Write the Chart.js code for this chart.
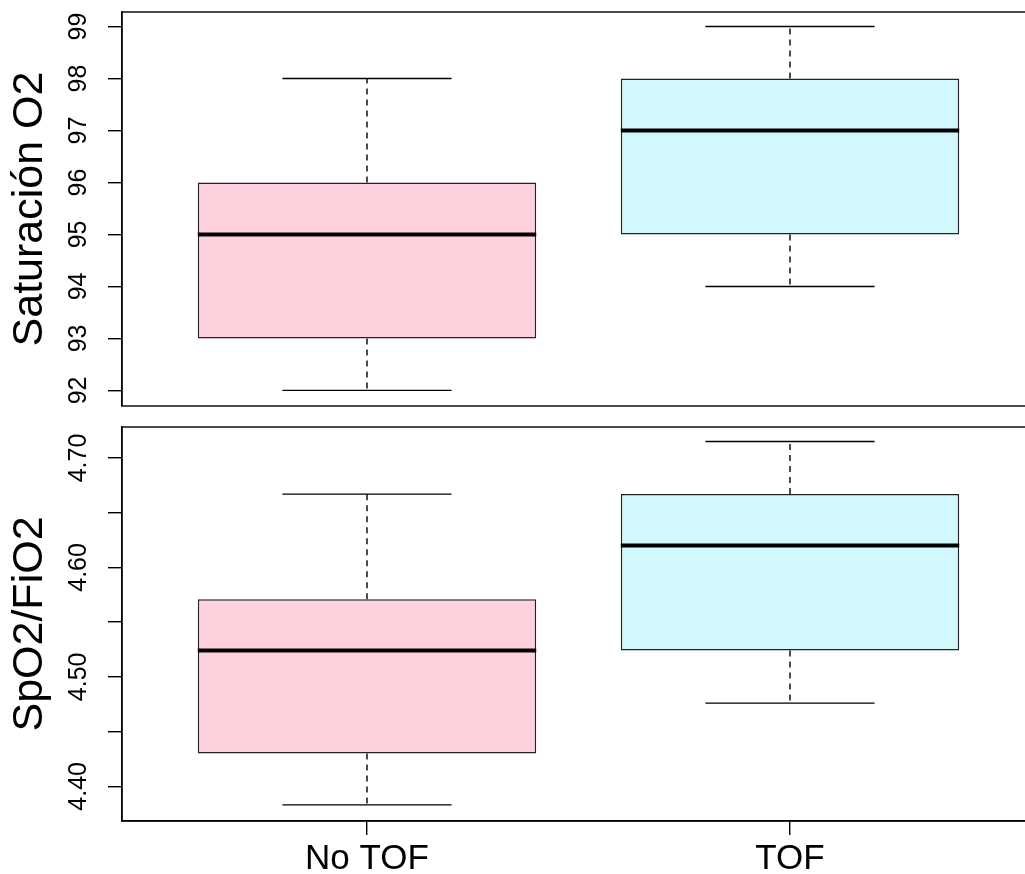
<!DOCTYPE html>
<html>
<head>
<meta charset="utf-8">
<script src="https://cdn.jsdelivr.net/npm/chart.js@4.4.0/dist/chart.umd.min.js"></script>
<style>
  html, body { margin: 0; padding: 0; background: #fff; overflow: hidden; width: 1025px; height: 874px; }
  canvas { position: absolute; left: 0; }
  #satChart { top: 0; }
  #ratioChart { top: 416px; }
</style>
</head>
<body>
<canvas id="satChart" width="1040" height="416"></canvas>
<canvas id="ratioChart" width="1040" height="458"></canvas>
<script>
/* datos */
const grupos = ['No TOF', 'TOF'];

const satMin = [92, 94];
const satQ1 = [93, 95];
const satMed = [95, 97];
const satQ3 = [96, 98];
const satMax = [98, 99];
const satTicks = [92, 93, 94, 95, 96, 97, 98, 99];
const satTickLabels = ['92', '93', '94', '95', '96', '97', '98', '99'];

const ratioMin = [4.383, 4.476];
const ratioQ1 = [4.430, 4.524];
const ratioMed = [4.524, 4.620];
const ratioQ3 = [4.571, 4.667];
const ratioMax = [4.667, 4.715];
const ratioTicks = [4.40, 4.45, 4.50, 4.55, 4.60, 4.65, 4.70];
const ratioTickLabels = ['4.40', '', '4.50', '', '4.60', '', '4.70'];

const colores = ['#FFD1DC', '#D1F8FC'];
const FUENTE = '"Liberation Sans", Arial, sans-serif';
const X_MIN = 0.4208;
const X_MAX = 2.5792;

/* arma las cajas, bigotes y medianas como datasets */
function datasetsCaja(min, q1, med, q3, max) {
    const bigotes = [];
    const topes = [];
    const medianas = [];
    grupos.forEach((g, i) => {
        const x = i + 1;
        bigotes.push({ x: x, y: q3[i] }, { x: x, y: max[i] }, { x: x, y: null });
        bigotes.push({ x: x, y: q1[i] }, { x: x, y: min[i] }, { x: x, y: null });
        topes.push({ x: x - 0.2, y: max[i] }, { x: x + 0.2, y: max[i] }, { x: x, y: null });
        topes.push({ x: x - 0.2, y: min[i] }, { x: x + 0.2, y: min[i] }, { x: x, y: null });
        medianas.push({ x: x - 0.4, y: med[i] }, { x: x + 0.4, y: med[i] }, { x: x, y: null });
    });
    const linea = { type: 'line', pointRadius: 0, fill: false, tension: 0, spanGaps: false, borderColor: '#000' };
    return [
        {
            type: 'bar',
            data: grupos.map((g, i) => ({ x: i + 1, y: [q1[i], q3[i]] })),
            backgroundColor: colores,
            borderColor: '#222',
            borderWidth: 1.5,
            borderSkipped: false,
            categoryPercentage: 1,
            barPercentage: 0.8,
            order: 3,
        },
        Object.assign({}, linea, { data: bigotes, borderWidth: 1.4, borderDash: [6, 5], order: 2 }),
        Object.assign({}, linea, { data: topes, borderWidth: 1.4, order: 2 }),
        Object.assign({}, linea, { data: medianas, borderWidth: 4, order: 1 }),
    ];
}

// marco completo del area del grafico
const marco = {
    id: 'marco',
    afterDraw(chart) {
        const { ctx, chartArea: a } = chart;
        ctx.save();
        ctx.strokeStyle = '#000';
        ctx.lineWidth = 1.4;
        ctx.strokeRect(a.left, a.top, a.right - a.left, a.bottom - a.top);
        ctx.restore();
    },
};

function opciones(yMin, yMax, ticks, etiquetas, titulo, padTick, conEjeX, padding) {
    const ejeX = {
        type: 'linear',
        min: X_MIN,
        max: X_MAX,
        offset: false,
        display: conEjeX,
        afterBuildTicks: (s) => { s.ticks = grupos.map((g, i) => ({ value: i + 1 })); },
        grid: { display: true, drawOnChartArea: false, drawTicks: true, tickLength: 14, color: '#000', lineWidth: 1.4, offset: false },
        border: { display: true, color: '#000', width: 1.4 },
        ticks: {
            callback: (v) => grupos[v - 1],
            font: { family: FUENTE, size: 35 },
            color: '#000',
            padding: 3,
            maxRotation: 0,
            autoSkip: false,
        },
    };
    if (conEjeX) {
        ejeX.afterFit = (s) => {
            s.height = 53;
            s.paddingLeft = 0;
            s.paddingRight = 0;
        };
    }

    return {
        responsive: false,
        animation: false,
        devicePixelRatio: 1,
        layout: { padding: padding },
        plugins: { legend: { display: false }, tooltip: { enabled: false } },
        scales: {
            x: ejeX,
            y: {
                type: 'linear',
                min: yMin,
                max: yMax,
                afterBuildTicks: (s) => { s.ticks = ticks.map((v) => ({ value: v })); },
                afterFit: (s) => {
                    s.width = 122;
                    s.paddingTop = 0;
                    s.paddingBottom = 0;
                },
                grid: { display: true, drawOnChartArea: false, drawTicks: true, tickLength: 14, color: '#000', lineWidth: 1.4 },
                border: { display: true, color: '#000', width: 1.4 },
                ticks: {
                    callback: (v, i) => etiquetas[i],
                    font: { family: FUENTE, size: 25 },
                    color: '#000',
                    minRotation: 90,
                    maxRotation: 90,
                    crossAlign: 'center',
                    padding: padTick,
                    autoSkip: false,
                },
                title: {
                    display: true,
                    text: titulo,
                    font: { family: FUENTE, size: 43 },
                    color: '#000',
                    padding: { top: 4, bottom: 0 },
                },
            },
        },
    };
}

document.addEventListener('DOMContentLoaded', function () {
    new Chart(document.getElementById('satChart'), {
        type: 'bar',
        data: { datasets: datasetsCaja(satMin, satQ1, satMed, satQ3, satMax) },
        options: opciones(91.7, 99.28, satTicks, satTickLabels, 'Saturación O2', 15, false,
            { top: 12, bottom: 10, left: 0, right: 5 }),
        plugins: [marco],
    });

    new Chart(document.getElementById('ratioChart'), {
        type: 'bar',
        data: { datasets: datasetsCaja(ratioMin, ratioQ1, ratioMed, ratioQ3, ratioMax) },
        options: opciones(4.3683, 4.7283, ratioTicks, ratioTickLabels, 'SpO2/FiO2', 5, true,
            { top: 11, bottom: 0, left: 0, right: 5 }),
        plugins: [marco],
    });
});
</script>
</body>
</html>
